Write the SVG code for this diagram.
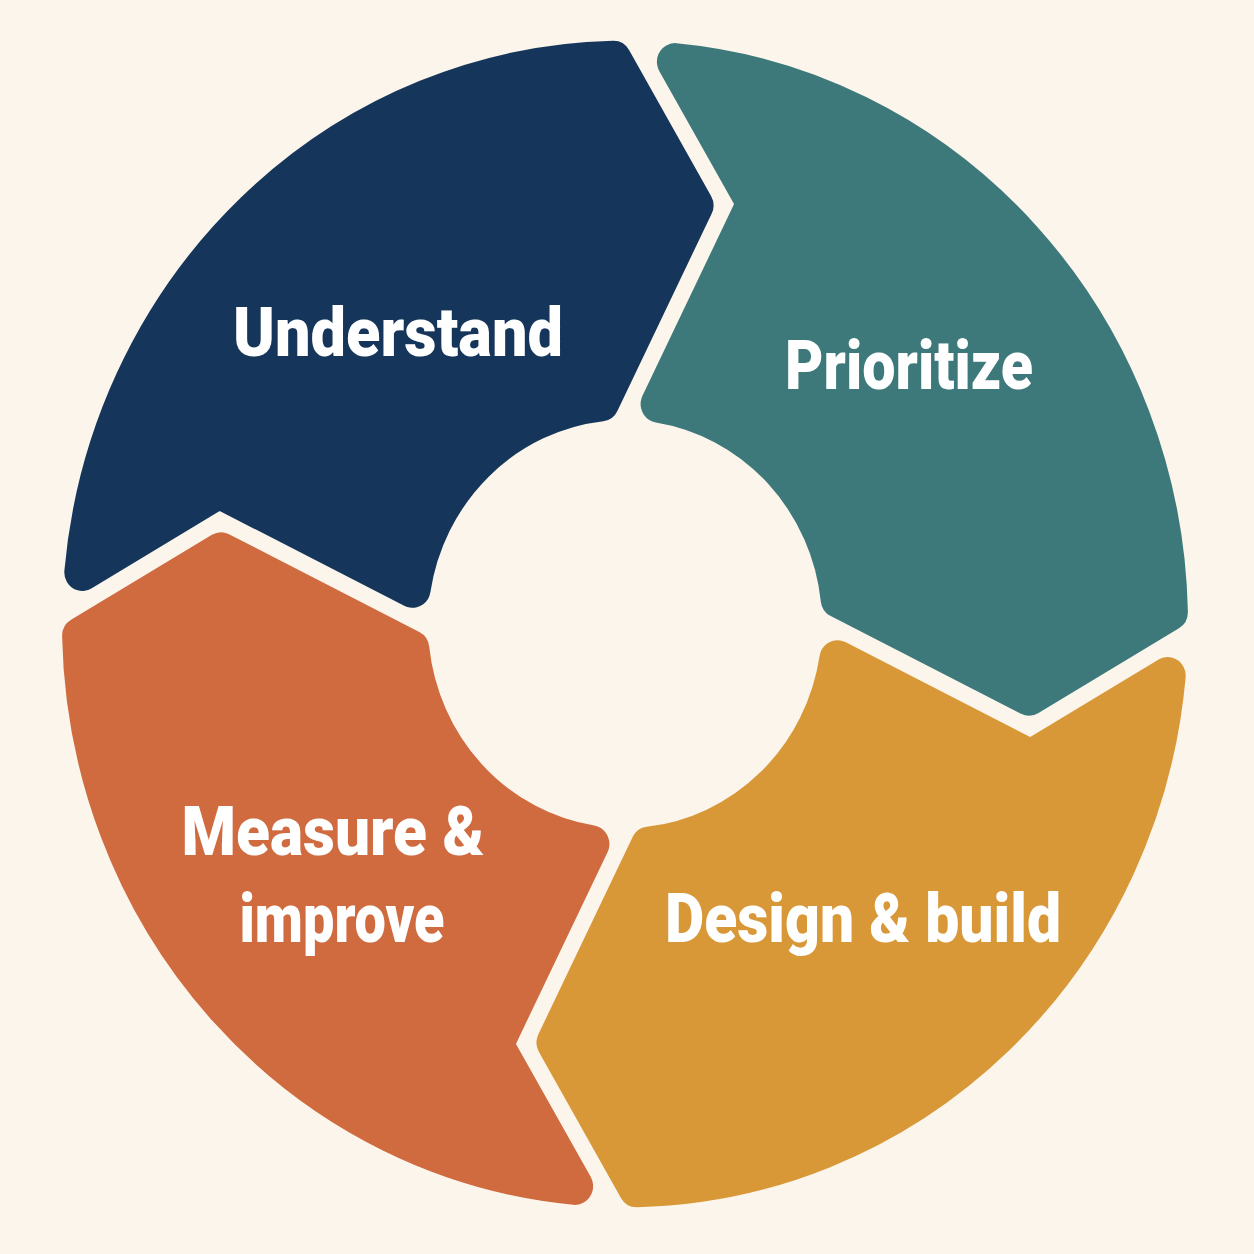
<svg xmlns="http://www.w3.org/2000/svg" width="1254" height="1254" viewBox="0 0 1254 1254">
  <style>
    .seg { stroke-width: 36; stroke-linejoin: round; }
    .lbl { font-family: Roboto, "Liberation Sans", "DejaVu Sans", sans-serif; font-weight: 900; font-size: 68px; fill: #ffffff; text-anchor: middle; }
  </style>
  <defs>
    <path id="seg" d="M -542.7,-49.9 A 545 545 0 0 1 -11.5,-544.9 L 70.5,-404.0 L -23.75,-213.7 A 215 215 0 0 0 -212.35,-33.6 L -406.0,-129.5 Z"/>
  </defs>
  <rect x="0" y="0" width="1254" height="1254" fill="#FBF5EC"/>
  <g id="understand">
    <use href="#seg" class="seg" fill="#15365A" stroke="#15365A" transform="translate(625,624) scale(1,1.036)"/>
    <text class="lbl" x="398" y="356" textLength="330" lengthAdjust="spacingAndGlyphs">Understand</text>
  </g>
  <g id="prioritize">
    <use href="#seg" class="seg" fill="#3D797A" stroke="#3D797A" transform="translate(625,624) scale(1,1.036) rotate(90)"/>
    <text class="lbl" x="909" y="389" textLength="248" lengthAdjust="spacingAndGlyphs">Prioritize</text>
  </g>
  <g id="design-build">
    <use href="#seg" class="seg" fill="#D99837" stroke="#D99837" transform="translate(625,624) scale(1,1.036) rotate(180)"/>
    <text class="lbl" x="863" y="942" textLength="396" lengthAdjust="spacingAndGlyphs">Design &amp; build</text>
  </g>
  <g id="measure-improve">
    <use href="#seg" class="seg" fill="#D06A3F" stroke="#D06A3F" transform="translate(625,624) scale(1,1.036) rotate(270)"/>
    <text class="lbl" x="333" y="855" textLength="303" lengthAdjust="spacingAndGlyphs">Measure &amp;</text>
    <text class="lbl" x="342" y="942" textLength="205" lengthAdjust="spacingAndGlyphs">improve</text>
  </g>
</svg>
